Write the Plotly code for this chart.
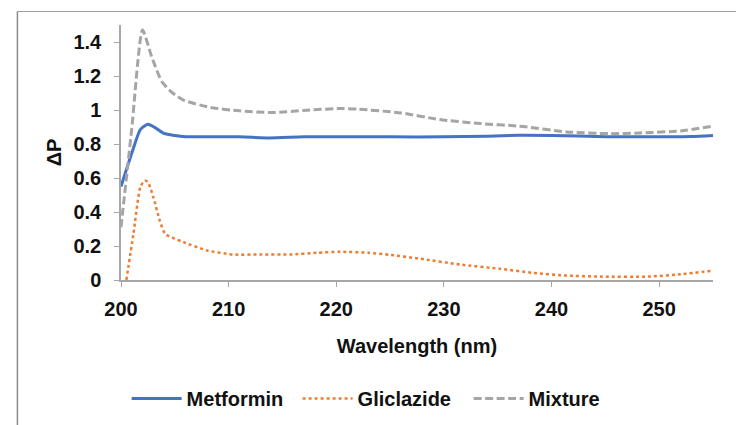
import plotly.graph_objects as go

# Metformin
met_x = [200, 201, 201.8, 202.5, 203.2, 204, 205, 206, 208, 211, 213.8, 217, 220, 225, 230, 234, 237, 240, 245, 250, 253, 255]
met_y = [0.55, 0.745, 0.885, 0.916, 0.895, 0.862, 0.85, 0.843, 0.842, 0.842, 0.836, 0.842, 0.842, 0.842, 0.842, 0.846, 0.851, 0.85, 0.843, 0.842, 0.844, 0.85]

# Gliclazide
gli_x = [200.5, 201.15, 201.8, 202.2, 202.5, 203.0, 203.6, 204.1, 205.0, 205.8, 208.0, 210.4, 213, 215.7, 218.2, 220.4, 223, 225, 227.8, 231.5, 235.2, 238.3, 241.4, 244.5, 249, 252, 255]
gli_y = [0.0, 0.27, 0.547, 0.585, 0.576, 0.488, 0.35, 0.272, 0.243, 0.223, 0.174, 0.15, 0.15, 0.15, 0.16, 0.166, 0.16, 0.148, 0.125, 0.091, 0.066, 0.042, 0.026, 0.02, 0.02, 0.034, 0.055]

# Mixture
mix_x = [200, 201, 202, 202.85, 203.8, 204.8, 205.8, 208.3, 211, 214, 217.3, 220.5, 222, 226, 229.6, 233.4, 237, 241.4, 245.4, 248.2, 252, 255]
mix_y = [0.31, 0.89, 1.47, 1.313, 1.166, 1.1, 1.058, 1.015, 0.995, 0.985, 0.999, 1.009, 1.005, 0.983, 0.944, 0.92, 0.905, 0.871, 0.861, 0.865, 0.877, 0.905]

x_ticks = [200, 210, 220, 230, 240, 250]
y_ticks = [0, 0.2, 0.4, 0.6, 0.8, 1.0, 1.2, 1.4]
y_tick_text = ["0", "0.2", "0.4", "0.6", "0.8", "1", "1.2", "1.4"]

FONT = "Liberation Sans, Arial, sans-serif"
FS = 20

fig = go.Figure()
fig.add_trace(go.Scatter(x=met_x, y=met_y, mode="lines", name="Metformin",
                         line=dict(color="#4472C4", width=3, shape="spline", smoothing=0.6)))
fig.add_trace(go.Scatter(x=gli_x, y=gli_y, mode="lines", name="Gliclazide",
                         line=dict(color="#ED7D31", width=2.5, dash="dot", shape="spline", smoothing=0.6)))
fig.add_trace(go.Scatter(x=mix_x, y=mix_y, mode="lines", name="Mixture",
                         line=dict(color="#A5A5A5", width=3, dash="8px,3.5px", shape="spline", smoothing=0.6)))

fig.update_layout(
    width=744, height=425,
    margin=dict(l=113, r=39, t=17, b=153),
    paper_bgcolor="white", plot_bgcolor="white",
    font=dict(family=FONT, size=FS, color="#111111", weight="bold"),
    showlegend=True,
    legend=dict(orientation="h", x=0.0095, xanchor="left", y=-0.465, yanchor="middle",
                font=dict(size=FS, weight="bold"), itemwidth=50, traceorder="normal",
                entrywidth=106, entrywidthmode="pixels"),
    xaxis=dict(range=[200, 255], tickvals=x_ticks, showgrid=False, zeroline=False,
               showline=True, linecolor="#A6A6A6", linewidth=1.5,
               ticks="outside", ticklen=5, tickcolor="#A6A6A6", tickwidth=1,
               ticklabelstandoff=5,
               tickfont=dict(size=FS, weight="bold"),
               title=dict(text="Wavelength (nm)", font=dict(size=FS, weight="bold"), standoff=20)),
    yaxis=dict(range=[0, 1.5], tickvals=y_ticks, ticktext=y_tick_text, showgrid=False, zeroline=False,
               showline=True, linecolor="#A6A6A6", linewidth=1.5,
               ticks="outside", ticklen=5, tickcolor="#A6A6A6", tickwidth=1,
               ticklabelstandoff=9,
               tickfont=dict(size=FS, weight="bold"),
               title=dict(text="ΔP", font=dict(size=FS, weight="bold"), standoff=6)),
    shapes=[
        dict(type="line", xref="paper", yref="paper", x0=-0.175, x1=1.2, y0=1.053, y1=1.053,
             line=dict(color="#9E9E9E", width=1)),
        dict(type="line", xref="paper", yref="paper", x0=-0.175, x1=-0.175, y0=1.053, y1=-1.0,
             line=dict(color="#8C8C8C", width=1.5)),
    ],
)

fig.write_html("out.html")
